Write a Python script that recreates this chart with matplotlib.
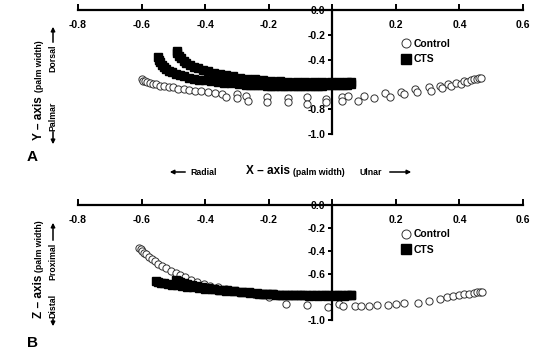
import matplotlib.pyplot as plt

plt.rcParams['font.family'] = ['Liberation Sans', 'DejaVu Sans']
plt.rcParams['font.weight'] = 'bold'

# Panel A: X vs Y (palm width units)
ctrl_a_x = [-0.600, -0.595, -0.590, -0.583, -0.575, -0.565, -0.555, -0.543, -0.530, -0.515,
            -0.500, -0.485, -0.468, -0.450, -0.432, -0.412, -0.392, -0.370, -0.348, -0.335,
            -0.300, -0.300, -0.270, -0.265, -0.205, -0.205, -0.140, -0.140, -0.080, -0.080,
            -0.020, -0.020, 0.030, 0.030, 0.050, 0.080, 0.100, 0.130, 0.165, 0.180,
            0.215, 0.225, 0.260, 0.265, 0.305, 0.310, 0.340, 0.345, 0.365, 0.375,
            0.390, 0.405, 0.415, 0.425, 0.435, 0.445, 0.455, 0.462, 0.468]
ctrl_a_y = [-0.560, -0.570, -0.575, -0.580, -0.590, -0.595, -0.600, -0.610, -0.615, -0.620,
            -0.625, -0.635, -0.640, -0.645, -0.650, -0.655, -0.660, -0.670, -0.675, -0.700,
            -0.680, -0.710, -0.690, -0.730, -0.700, -0.745, -0.710, -0.745, -0.700, -0.755,
            -0.720, -0.745, -0.705, -0.730, -0.690, -0.735, -0.690, -0.710, -0.670, -0.700,
            -0.660, -0.680, -0.635, -0.665, -0.625, -0.650, -0.610, -0.630, -0.595, -0.615,
            -0.585, -0.595, -0.575, -0.580, -0.565, -0.560, -0.555, -0.550, -0.548]

cts_a_x = [-0.548, -0.545, -0.541, -0.536, -0.530, -0.522, -0.513, -0.503, -0.492, -0.480,
           -0.466, -0.451, -0.435, -0.418, -0.400, -0.381, -0.361, -0.340, -0.318, -0.295,
           -0.271, -0.258, -0.246, -0.233, -0.220, -0.206, -0.193, -0.180, -0.166, -0.152,
           -0.139, -0.125, -0.112, -0.098, -0.085, -0.071, -0.058, -0.044, -0.031, -0.017,
           -0.004, 0.009, 0.022, 0.034, 0.046, 0.060,
           -0.490, -0.487, -0.482, -0.476, -0.468, -0.459, -0.448, -0.436, -0.422, -0.407,
           -0.391, -0.373, -0.354, -0.334, -0.313, -0.291, -0.268, -0.244, -0.219, -0.193,
           -0.166, -0.139, -0.112, -0.085, -0.058, -0.031, -0.004, 0.022, 0.046, 0.060]
cts_a_y = [-0.380, -0.400, -0.420, -0.440, -0.458, -0.475, -0.490, -0.503, -0.515, -0.526,
           -0.536, -0.545, -0.553, -0.561, -0.568, -0.575, -0.581, -0.587, -0.592, -0.597,
           -0.601, -0.603, -0.605, -0.607, -0.608, -0.609, -0.610, -0.611, -0.612, -0.613,
           -0.613, -0.613, -0.613, -0.613, -0.612, -0.612, -0.611, -0.610, -0.609, -0.608,
           -0.607, -0.606, -0.604, -0.603, -0.601, -0.599,
           -0.330, -0.350, -0.370, -0.390, -0.408, -0.425, -0.441, -0.456, -0.470, -0.483,
           -0.495, -0.506, -0.517, -0.527, -0.536, -0.545, -0.553, -0.560, -0.566, -0.571,
           -0.575, -0.578, -0.580, -0.582, -0.583, -0.583, -0.583, -0.582, -0.581, -0.580]

# Panel B: X vs Z
ctrl_b_x = [-0.607, -0.603, -0.598, -0.592, -0.585, -0.577, -0.568, -0.558, -0.547, -0.535,
            -0.522, -0.508, -0.493, -0.478, -0.462, -0.445, -0.427, -0.405, -0.385, -0.360,
            -0.335, -0.290, -0.245, -0.200, -0.145, -0.080, -0.015, 0.020, 0.035, 0.070,
            0.090, 0.115, 0.140, 0.175, 0.200, 0.225, 0.270, 0.305, 0.340, 0.360,
            0.380, 0.400, 0.415, 0.430, 0.445, 0.455, 0.465, 0.470]
ctrl_b_y = [-0.375, -0.385, -0.400, -0.415, -0.430, -0.450, -0.470, -0.490, -0.510, -0.530,
            -0.550, -0.570, -0.590, -0.610, -0.630, -0.650, -0.670, -0.685, -0.700, -0.715,
            -0.730, -0.755, -0.775, -0.800, -0.865, -0.870, -0.885, -0.860, -0.875, -0.875,
            -0.875, -0.875, -0.870, -0.870, -0.860, -0.855, -0.850, -0.835, -0.815, -0.800,
            -0.790, -0.780, -0.775, -0.770, -0.765, -0.760, -0.757, -0.755]

cts_b_x = [-0.555, -0.548, -0.540, -0.530, -0.518, -0.505, -0.490, -0.474, -0.457, -0.439,
           -0.420, -0.400, -0.379, -0.357, -0.334, -0.310, -0.285, -0.259, -0.232, -0.218,
           -0.205, -0.191, -0.177, -0.163, -0.149, -0.135, -0.121, -0.107, -0.093, -0.079,
           -0.065, -0.051, -0.037, -0.023, -0.009, 0.005, 0.019, 0.032, 0.045, 0.060,
           -0.492, -0.486, -0.478, -0.468, -0.456, -0.442, -0.427, -0.410, -0.392, -0.373,
           -0.353, -0.332, -0.310, -0.287, -0.263, -0.238, -0.212, -0.185, -0.158, -0.130,
           -0.102, -0.074, -0.046, -0.018, 0.010, 0.036, 0.060]
cts_b_y = [-0.660, -0.668, -0.674, -0.680, -0.686, -0.692, -0.698, -0.704, -0.710, -0.716,
           -0.722, -0.728, -0.734, -0.740, -0.746, -0.752, -0.758, -0.764, -0.770, -0.773,
           -0.775, -0.777, -0.779, -0.781, -0.782, -0.783, -0.784, -0.785, -0.785, -0.786,
           -0.786, -0.786, -0.786, -0.786, -0.785, -0.785, -0.784, -0.784, -0.783, -0.782,
           -0.650, -0.660, -0.670, -0.680, -0.689, -0.698, -0.706, -0.714, -0.721, -0.728,
           -0.735, -0.742, -0.748, -0.754, -0.760, -0.766, -0.771, -0.776, -0.780, -0.783,
           -0.786, -0.788, -0.789, -0.789, -0.788, -0.787, -0.786]

xticks = [-0.8, -0.6, -0.4, -0.2, 0.0, 0.2, 0.4, 0.6]
xticklabels = ['-0.8', '-0.6', '-0.4', '-0.2', '', '0.2', '0.4', '0.6']
yticks = [0.0, -0.2, -0.4, -0.6, -0.8, -1.0]
yticklabels = ['0.0', '-0.2', '-0.4', '-0.6', '-0.8', '-1.0']

W, H = 554, 356
fig = plt.figure(figsize=(W / 100, H / 100), dpi=100)


def px(x, y):
    return x / W, 1 - y / H


def make_axes(top, bottom, cx, cy, sx, sy, leg_top):
    ax = fig.add_axes([78 / W, 1 - bottom / H, 445 / W, (bottom - top) / H])
    ax.plot(cx, cy, 'o', ms=5.2, mfc='white', mec='#333333', mew=0.7, label='Control')
    ax.plot(sx, sy, 's', ms=5.4, color='black', label='CTS')
    ax.set_xlim(-0.8, 0.6)
    ax.set_ylim(-1.0, 0.0)
    for s in ['top', 'right']:
        ax.spines[s].set_visible(False)
    ax.spines['bottom'].set_position(('data', 0.0))
    ax.spines['left'].set_position(('data', 0.0))
    ax.spines['left'].set_bounds(-1.0, 0.0)
    ax.spines['bottom'].set_linewidth(1.6)
    ax.spines['left'].set_linewidth(1.6)
    ax.set_xticks(xticks)
    ax.set_xticklabels(xticklabels)
    ax.set_yticks(yticks)
    ax.set_yticklabels(yticklabels)
    ax.tick_params(axis='x', direction='in', length=4, width=1.4, pad=7, labelsize=7.5)
    ax.tick_params(axis='y', direction='out', length=3, width=1.4, pad=2, labelsize=7.5)
    ax.patch.set_visible(False)
    ax.legend(loc='upper left', bbox_to_anchor=(0.728, leg_top), frameon=False,
              fontsize=7.5, handlelength=0.8, handletextpad=0.3, borderpad=0,
              borderaxespad=0, labelspacing=0.55, markerscale=1.25)
    return ax


axA = make_axes(10, 134, ctrl_a_x, ctrl_a_y, cts_a_x, cts_a_y, 0.77)
axB = make_axes(205, 320, ctrl_b_x, ctrl_b_y, cts_b_x, cts_b_y, 0.79)


def vlabel(x, y, s, size):
    fig.text(*px(x, y), s, rotation=90, ha='center', va='center', fontsize=size, fontweight='bold')


def arrow(x0, y0, x1, y1):
    fig.add_artist(plt.matplotlib.patches.FancyArrowPatch(
        px(x0, y0), px(x1, y1), transform=fig.transFigure, arrowstyle='-|>',
        mutation_scale=6, lw=1.1, color='black'))


# side labels, panel A
vlabel(39, 118, 'Y \u2013 axis', 8.5)
vlabel(40, 66, '(palm width)', 6.3)
vlabel(53, 58, 'Dorsal', 6.3)
arrow(53, 45, 53, 24)
vlabel(53, 116, 'Palmar', 6.3)
arrow(53, 129, 53, 147)
fig.text(*px(32, 157), 'A', ha='center', va='center', fontsize=11, fontweight='bold')

# side labels, panel B
vlabel(39, 296, 'Z \u2013 axis', 8.5)
vlabel(40, 246, '(palm width)', 6.3)
vlabel(53, 261, 'Proximal', 6.3)
arrow(53, 243, 53, 220)
vlabel(53, 306, 'Distal', 6.3)
arrow(53, 316, 53, 329)
fig.text(*px(32, 343), 'B', ha='center', va='center', fontsize=11, fontweight='bold')

# x-axis caption between panels
fig.text(*px(246, 171), 'X \u2013 axis', ha='left', va='center', fontsize=8.5, fontweight='bold')
fig.text(*px(293, 172), '(palm width)', ha='left', va='center', fontsize=6.3, fontweight='bold')
fig.text(*px(190, 172), 'Radial', ha='left', va='center', fontsize=6.3, fontweight='bold')
arrow(188, 172, 167, 172)
fig.text(*px(360, 172), 'Ulnar', ha='left', va='center', fontsize=6.3, fontweight='bold')
arrow(387, 172, 414, 172)

fig.savefig('out.png', dpi=100)
